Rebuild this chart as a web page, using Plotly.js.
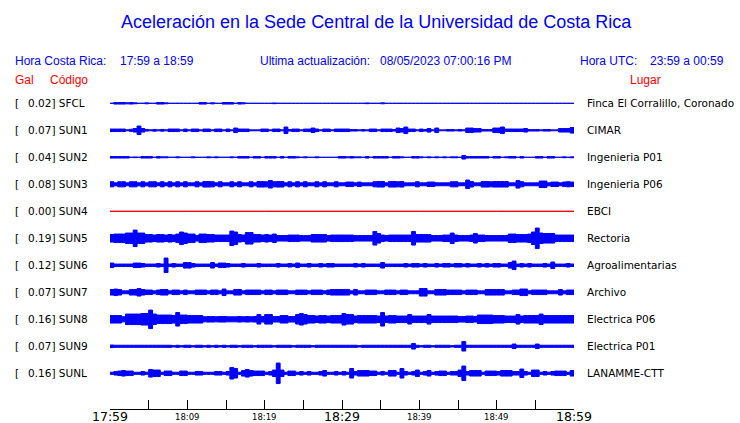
<!DOCTYPE html>
<html><head><meta charset="utf-8">
<script src="https://cdn.plot.ly/plotly-3.0.1.min.js"></script>
<style>html,body{margin:0;padding:0;background:#fff}#chart{width:740px;height:423px}</style>
</head><body><div id="chart"></div>
<script>
// ---------- data ----------
const stationCodes = ['SFCL','SUN1','SUN2','SUN3','SUN4','SUN5','SUN6','SUN7','SUN8','SUN9','SUNL'];
const peakGal = [0.02,0.07,0.04,0.08,0.00,0.19,0.12,0.07,0.16,0.07,0.16];
const places = ['Finca El Corralillo, Coronado','CIMAR','Ingenieria P01','Ingenieria P06','EBCI','Rectoria','Agroalimentarias','Archivo','Electrica P06','Electrica P01','LANAMME-CTT'];
const tickMinutes = [0,10,20,30,40,50,60];
const tickLabels = ['17:59','18:09','18:19','18:29','18:39','18:49','18:59'];
const majorTick = [true,false,false,true,false,false,true];
const minorTickMinutes = [0,5,10,15,20,25,30,35,40,45,50,55,60];
const title = 'Aceleración en la Sede Central de la Universidad de Costa Rica';
const localTime = '17:59 a 18:59';
const utcTime = '23:59 a 00:59';
const lastUpdate = '08/05/2023 07:00:16 PM';

// trace envelopes (half-height of the drawn waveform, in screen pixels), equal time steps over the hour
const env_SFCL = [0.5,1.5,1.5,1.5,1.3,1.5,1.2,0.5,0.5,1.2, 0.5,0.5,1.5,1.5,1.2,0.5,0.5,0.9,0.5,0.5,
 0.5,0.5,0.5,1.5,1.5,0.5,1.3,0.5,0.5,1.5, 1.5,1.5,0.5,1.5,1.3,0.5,0.5,0.5,0.5,0.5,
 0.5,0.5,1.1,0.5,0.5,0.5,0.5,0.5,0.5,0.5, 0.5,0.5,0.5,0.5,0.5,0.5,0.5,0.5,0.5,0.5,
 0.5,0.5,0.5,0.5,0.5,0.5,1.1,0.5,0.5,0.5, 1.2,0.5,0.5,0.5,0.5,0.5,0.5,0.5,0.5,0.5,
 0.5,0.5,0.5,0.5,0.5,0.5,0.5,0.5,0.5,0.5, 0.5,0.5,0.5,0.5,0.5,0.5,0.5,0.5,0.5,0.5,
 0.5,0.5,0.5,0.5,0.5,0.5,0.5,0.5,0.5,0.5, 0.5,0.5,0.5,0.5,0.5,0.5,0.5,0.5,0.5,0.5];
const env_SUN1 = [2,2,2,2,1.2,1.8,2.5,5,2.5,1.5, 1.2,1.6,1.2,1.6,1.2,2,2,2,1.2,2,
 1.2,2,2,1.2,2,2,1.2,2,2,1.2, 2,1.2,3,2,2,2,1.2,1.2,1.2,2,
 2,1.2,2,2,1.2,4,1.5,2,2,1.2, 2,2,3,2,1.2,2,2,1.2,2,2,
 2,2,1.5,1.5,1.2,1.5,1.2,2,2,1.2, 2,2,2,1.5,3,2.5,4,2,2,1.2,
 2,1.5,2.5,1.2,3,1.2,1.2,1.5,1.5,1.2, 1.5,1.2,3,3,2.5,2.5,1.5,1.5,1.5,3,
 3,4,2,2,2,2,2,2.5,1.5,1.5, 1.5,1.2,1.5,1.5,1.2,1.2,2.5,2.5,2.5,3.5];
const env_SUN2 = [1.5,1.5,1.5,1.5,1.5,0.5,1.1,0.5,1.5,1.5, 1.5,0.5,1.5,1.2,1.2,0.5,0.5,1.2,0.5,0.5,
 0.5,1.2,0.5,0.5,0.5,1.2,0.5,1.2,0.5,0.5, 0.5,1.2,0.5,1.5,1.5,1.5,0.5,1.5,1.5,0.5,
 1.5,1.5,1.5,0.5,1.5,0.5,1.5,1.5,1.2,0.5, 1.2,0.5,0.5,1.2,0.5,0.5,0.5,0.5,0.5,1.5,
 1.5,1.2,1.5,1.2,1.2,0.5,1.5,0.5,1.5,1.5, 1.5,1.5,0.5,1.5,1.5,1.2,0.5,0.5,1.5,1.5,
 1.2,0.5,1.2,0.5,1.2,0.5,1.2,0.5,1.2,1.2, 0.5,2.5,1.5,1.5,1.5,1.5,1.5,1.5,0.5,1.5,
 1.5,0.5,1.2,1.5,1.5,0.5,1.5,0.5,0.5,0.5, 1.5,1.5,0.5,1.5,1.5,0.5,0.5,1.2,0.5,1.2];
const env_SUN3 = [3.3,2.2,3.3,3.3,2.2,3.3,3.3,2.2,3.3,2.2, 3.3,3.3,2.2,3.3,2.2,3.3,2.2,3.3,2.2,3.3,
 2.2,2.2,3.3,2.2,3.5,3.5,3.3,2.2,3.3,2.2, 2.2,3.3,2.2,3.3,2.2,2.2,3.3,2.2,3.5,3.5,
 3.3,4.5,3.3,3.5,3.5,2.2,3.3,2.2,3.3,2.2, 3.3,2.2,2.2,3.3,2.2,3.3,2.2,2.2,3.3,2.2,
 2.2,3,3,2.2,3,2.2,2.2,2.2,3.3,3.5, 3.5,2.2,3.5,3.5,3.3,3.5,2.2,2.2,2.2,3.3,
 2.2,2.2,3,3,2.2,2.2,2.2,2.2,3.3,3.3, 2.2,2.2,5,3.5,2.2,2.2,3.5,3.5,3.3,3.5,
 3.5,3.5,3.5,2.2,2.2,4.5,3.3,2.2,2.2,2.2, 2.2,4,4,2.2,3,3,2.2,3,3.3,3];
const env_SUN4 = [0,0,0,0,0,0];
const env_SUN5 = [4.5,5,5,5,6,6,9,6,6,4.5, 4.5,4,4.5,4.5,4,4.5,4,5,7,6,
 5,5,3.5,5,5,4.5,4.5,4,4,4, 4,8,7,4.5,4,6.5,6.5,4.5,4.5,4,
 4.5,4,5,3.5,3.5,3.5,4,4,4,3.5, 3.5,3.5,4.5,4.5,4.5,4.5,3.5,4,4,4,
 4,4,4,3.5,3.5,3.5,3.5,3.5,7.5,5.5, 4,3.5,4,4,4,4,4,4,7.5,4.5,
 4.5,4.5,4.5,3.5,3.5,3.5,4,4,6,4, 3.5,3.5,3.5,4,5.5,4,4,3.5,3.5,3.5,
 3.5,3.5,3.5,5,5,4.5,4.5,4.5,5,7, 11,6,5.5,5.5,5.5,4,4,4,4,4];
const env_SUN6 = [3,2,2,2,2,2,3,3,2.5,2, 2,2,2.5,2,8,2,2.5,2,2,3.5,
 3.5,2.5,2,2,2,2,3.5,2,3,3, 2.5,2,2,2,2.5,2,2,2,2.5,2,
 2,2,2,2.5,2,2,2.5,2,3,2, 2,2.5,2,2,2.5,2,2.5,2.5,2,2,
 2,2,2,2.5,2,2.5,2,2,2,2, 3.5,2,2,2,2,2,2.5,2,2.5,2.5,
 2,2.5,2,2,2.5,2,2.5,2.5,2,2.5, 2.5,2,2.5,2,2,2.5,2,2.5,2,2.5,
 2.5,2,2,3.5,5,2,2.5,2,2.5,2, 2,2,2.5,2,4,2,2,2,2.5,2];
const env_SUN7 = [3.5,4,3.5,2.2,2.2,3.5,3.5,4.5,3.5,3, 3,2.2,3,3.5,3.5,2.2,3,3,2.2,3,
 2.2,2.2,3,3,3,2.2,3,3,2.2,4, 2.2,2.2,3.5,3.5,2.2,3,3,3,3,2.2,
 3,3,2.2,3,3,3,2.2,2.2,3,3, 3,2.2,3,3,3,2.2,3,3.5,3.5,3.5,
 3.5,3.5,2.2,3.5,2.2,2.2,3,3,3,2.2, 2.2,3,3,3,2.2,3,3,2.2,2.2,2.2,
 4.5,4.5,2.2,2.2,3.5,3.5,3.5,3,3,3, 3,2.2,3,3,3,2.2,2.2,3.5,3.5,3.5,
 3.5,3.5,2.2,2.2,3,3,4,4,2.2,3, 3,3,3,2.2,2.2,2.2,3.5,2.2,3,3];
const env_SUN8 = [4.5,4.5,4.5,3.3,6,6,6,6,6.5,6.5, 10,6,5,5,5,5,4.5,7.5,5,5,
 4.5,4.5,4.5,4.5,3.3,3.5,3.5,3.3,3.5,3.5, 3.3,3.3,3.3,3.5,3.3,3.5,3.3,3.5,5.5,3.5,
 5.5,5.5,3.5,3.5,4.5,4.5,3.5,3.5,5.5,6.5, 5.5,4.5,4.5,4,4.5,4.5,4,4.5,4.5,4.5,
 6.5,5.5,5.5,4,4.5,4.5,4.5,4.5,4.5,4, 7.5,4,4.5,4.5,4,4,4,5.5,4,4,
 4,4,5.5,4,4,4,4,4,4,4, 3.5,3.5,4,4,3.5,5,5,5,5,4.5,
 4.5,4.5,4,4,4,5.5,4,4.5,4.5,4.5, 4.5,6,4.5,4.5,4.5,4.5,4.5,4.5,4.5,4.5];
const env_SUN9 = [2,1.8,1.8,1.8,1.8,1.8,1.8,1.8,1.8,1.8, 1.8,1.8,1.8,1.8,1.8,1.8,1.4,1.8,1.4,1.8,
 1.8,1.4,1.8,1.8,1.4,1.8,1.4,1.8,1.4,1.8, 1.4,1.8,1.8,1.4,1.8,1.8,1.8,1.4,1.8,1.8,
 1.8,1.8,1.4,1.8,1.8,1.8,1.8,1.4,1.8,1.8, 1.8,1.8,1.4,1.8,1.8,1.8,1.8,1.8,1.8,1.8,
 1.8,1.8,1.8,1.8,1.4,1.8,1.8,1.8,1.8,1.8, 1.8,1.8,1.8,1.8,1.8,1.8,1.8,1.8,3.5,1.8,
 1.4,1.8,1.8,1.4,1.8,1.8,1.8,1.8,1.4,1.8, 1.8,5.5,1.8,1.8,1.8,1.8,1.8,1.8,1.8,1.8,
 1.8,1.8,1.8,1.8,3,1.8,1.8,1.8,1.8,1.8, 3,1.8,1.8,1.8,1.8,1.8,1.8,1.8,1.8,1.8];
const env_SUNL = [1.8,2.5,3,3.5,3,3,1.8,1.8,2.5,1.8, 4.5,4,4,1.8,3,3,1.8,1.8,3,3,
 1.8,1.8,2.5,2.5,1.8,1.8,1.8,2.5,2.5,1.8, 2.5,6.5,5.5,1.8,3.5,4.5,3.5,3,3,3,
 1.8,2.5,4,11,4,1.8,3,3,1.8,2.5, 1.8,2.5,1.8,1.8,2.5,3.5,1.8,1.8,2.5,1.8,
 2.5,1.8,5.5,2.5,3.5,3.5,3.5,3,3,1.8, 2.5,1.8,3.5,3.5,1.8,5.5,2.5,1.8,2.5,4,
 1.8,2.5,3.5,1.8,2.5,3,3,1.8,2.5,2.5, 4,8,2.5,3.5,3.5,3.5,1.8,3,3,3,
 2.5,3.5,3.5,3.5,2.5,2.5,5,2.5,1.8,4, 4,1.8,2.5,1.8,2.5,3,3,3,1.8,3.5];
const envelopes = [env_SFCL,env_SUN1,env_SUN2,env_SUN3,env_SUN4,env_SUN5,env_SUN6,env_SUN7,env_SUN8,env_SUN9,env_SUNL];
const flatColor = '#ff0000';   // station with no signal
const traceColor = '#0000ff';

// ---------- layout geometry ----------
const W = 740, H = 423;
const L = 110, R = 166, T = 90, B = 14;
const PW = W - L - R, PH = H - T - B;
const rowTop = 13.3, rowStep = 27;
const outlineTrim = 0.75;              // compensates for the 1px outline around the filled band
const px = x => (x - L) / PW;          // pixel -> paper x
const py = y => (H - B - y) / PH;      // pixel -> paper y

const traces = [];
envelopes.forEach((env, k) => {
  const c = -(rowTop + k * rowStep);
  const n = env.length, dt = 60 / n;
  const xs = [], ys = [];
  for (let i = 0; i < n; i++) { const h = Math.max(env[i] - outlineTrim, 0); xs.push(i*dt, (i+1)*dt); ys.push(c+h, c+h); }
  for (let i = n-1; i >= 0; i--) { const h = Math.max(env[i] - outlineTrim, 0); xs.push((i+1)*dt, i*dt); ys.push(c-h, c-h); }
  xs.push(xs[0]); ys.push(ys[0]);
  const flat = peakGal[k] === 0;
  const col = flat ? flatColor : traceColor;
  traces.push({type:'scatter', mode:'lines', x:xs, y:ys, fill: flat ? 'none' : 'toself',
    fillcolor: col, line:{color: col, width: 1, simplify:false, shape:'linear'}, hoverinfo:'skip', showlegend:false});
});

const ann = [];
const A = (o) => ann.push(Object.assign({showarrow:false, borderpad:0, borderwidth:0, yanchor:'middle'}, o));
const hdr = {family:'Liberation Sans, Arial, sans-serif', size:12, color:'#0000ff'};
const red = {family:'Liberation Sans, Arial, sans-serif', size:12, color:'#ff0000'};
const lab = {family:'DejaVu Sans, sans-serif', size:10.5, color:'#000000'};

A({text:title, xref:'paper', yref:'paper', x:px(376), y:py(22), xanchor:'center',
   font:{family:'Liberation Sans, Arial, sans-serif', size:18, color:'#0000ff'}});
A({text:'Hora Costa Rica:', xref:'paper', yref:'paper', x:px(15), y:py(61), xanchor:'left', font:hdr});
A({text:localTime, xref:'paper', yref:'paper', x:px(120), y:py(61), xanchor:'left', font:hdr});
A({text:'Ultima actualización:', xref:'paper', yref:'paper', x:px(260), y:py(61), xanchor:'left', font:hdr});
A({text:lastUpdate, xref:'paper', yref:'paper', x:px(380), y:py(61), xanchor:'left', font:hdr});
A({text:'Hora UTC:', xref:'paper', yref:'paper', x:px(580), y:py(61), xanchor:'left', font:hdr});
A({text:utcTime, xref:'paper', yref:'paper', x:px(650), y:py(61), xanchor:'left', font:hdr});
A({text:'Gal', xref:'paper', yref:'paper', x:px(15), y:py(80), xanchor:'left', font:red});
A({text:'Código', xref:'paper', yref:'paper', x:px(50), y:py(80), xanchor:'left', font:red});
A({text:'Lugar', xref:'paper', yref:'paper', x:px(630), y:py(80), xanchor:'left', font:red});

stationCodes.forEach((code, k) => {
  const c = -(rowTop + k * rowStep);
  A({text:'[', xref:'paper', yref:'y', x:px(14.5), y:c, xanchor:'left', font:lab});
  A({text:peakGal[k].toFixed(2) + '] ' + code, xref:'paper', yref:'y', x:px(27.5), y:c, xanchor:'left', font:lab});
  A({text:places[k], xref:'paper', yref:'y', x:px(587), y:c, xanchor:'left', font:lab});
});

tickMinutes.forEach((m, i) => {
  A({text:tickLabels[i], xref:'x', yref:'paper', x:m, y:py(416.5), xanchor:'center',
     font:{family:'DejaVu Sans, sans-serif', size: majorTick[i] ? 12.5 : 8.5, color:'#000'}});
});

const layout = {
  width:W, height:H, margin:{l:L, r:R, t:T, b:B, pad:0},
  paper_bgcolor:'#fff', plot_bgcolor:'#fff', showlegend:false,
  xaxis:{range:[0,60], tickvals:minorTickMinutes, ticks:'inside', ticklen:9, tickwidth:1, tickcolor:'#000',
         showline:true, linecolor:'#000', linewidth:1, showgrid:false, zeroline:false, showticklabels:false, fixedrange:true},
  yaxis:{range:[-PH,0], visible:false, showgrid:false, zeroline:false, fixedrange:true},
  annotations: ann
};
Plotly.newPlot('chart', traces, layout, {displayModeBar:false, staticPlot:true});
</script>
</body></html>
